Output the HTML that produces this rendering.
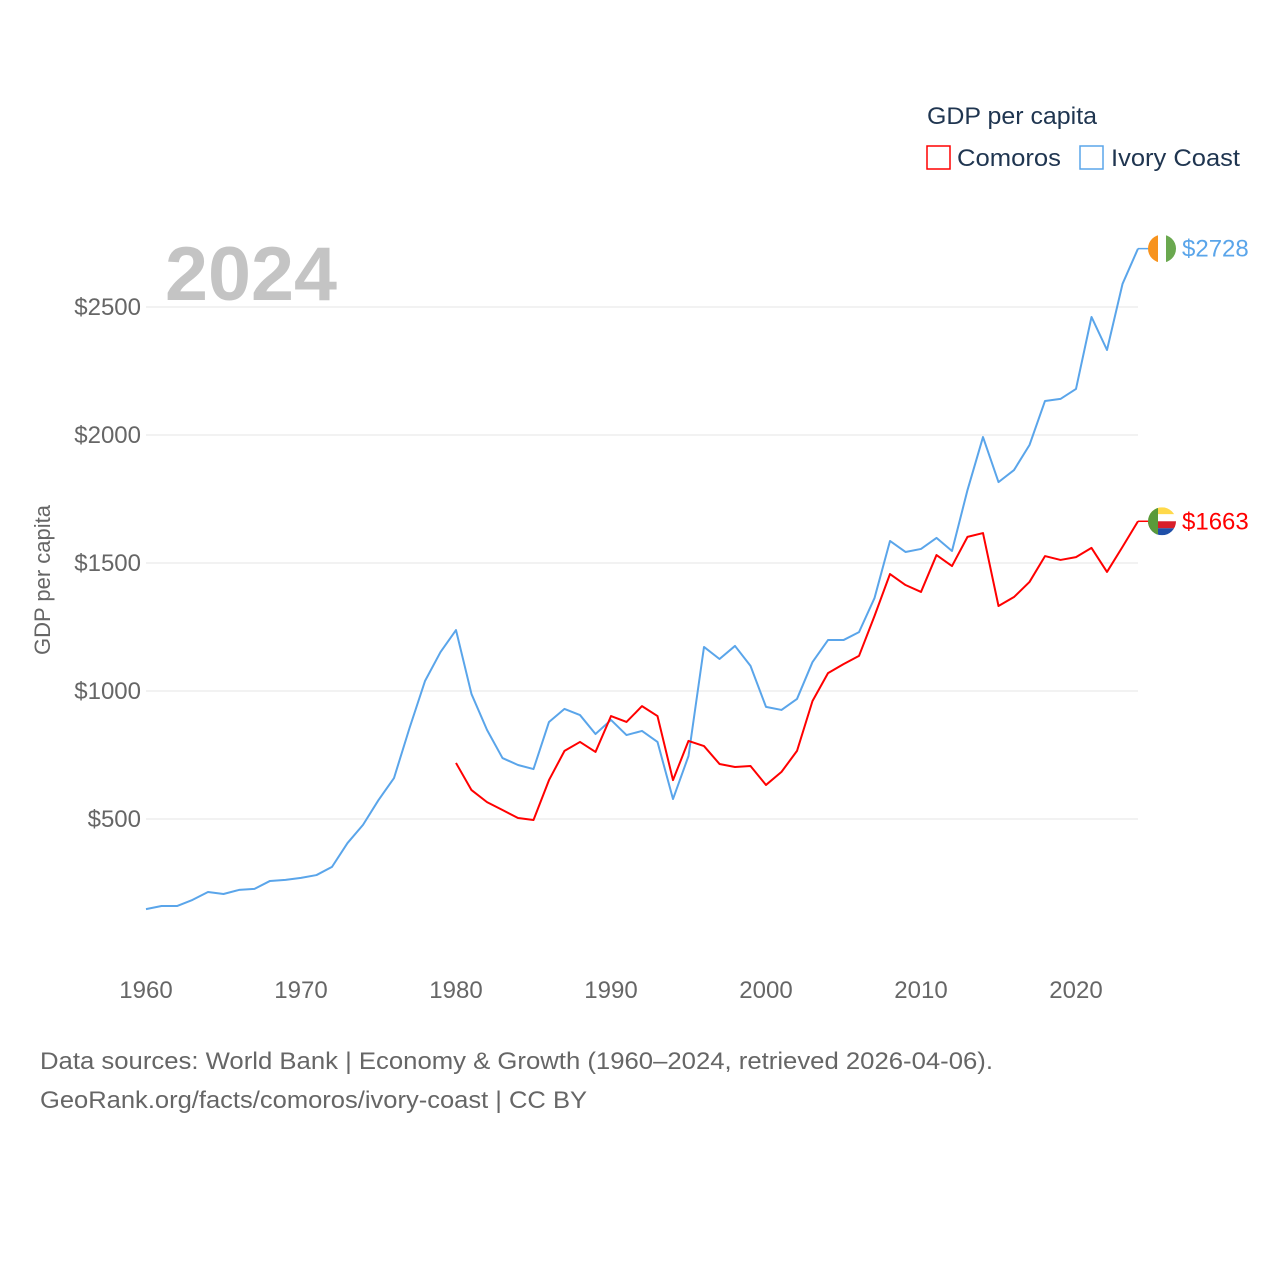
<!DOCTYPE html>
<html><head><meta charset="utf-8"><style>
html,body{margin:0;padding:0;background:#fff;}
body{width:1280px;height:1280px;position:relative;font-family:"Liberation Sans",sans-serif;}
</style></head><body>
<svg id="chart" width="1280" height="1280" xmlns="http://www.w3.org/2000/svg" font-family="Liberation Sans, sans-serif">
<g id="grid"></g>
<g id="yticks"></g>
<g id="xticks"></g>
<text x="165" y="300" font-size="76" font-weight="bold" fill="#c4c4c4" textLength="172" lengthAdjust="spacingAndGlyphs">2024</text>
<text transform="translate(50,580) rotate(-90)" text-anchor="middle" font-size="22" fill="#666">GDP per capita</text>
<g id="series"></g>
<g>
<text x="927" y="124" font-size="24" fill="#1f3550" textLength="170" lengthAdjust="spacingAndGlyphs">GDP per capita</text>
<g><rect x="927" y="146" width="23" height="23" fill="none" stroke="#ff0000" stroke-width="1.5"/><text x="957" y="166" font-size="24" fill="#1f3550" textLength="104" lengthAdjust="spacingAndGlyphs">Comoros</text></g>
<g><rect x="1080" y="146" width="23" height="23" fill="none" stroke="#5aa5ea" stroke-width="1.5"/><text x="1111" y="166" font-size="24" fill="#1f3550" textLength="129" lengthAdjust="spacingAndGlyphs">Ivory Coast</text></g>
</g>
<text x="40" y="1069" font-size="24" fill="#666" textLength="953" lengthAdjust="spacingAndGlyphs">Data sources: World Bank | Economy &amp; Growth (1960–2024, retrieved 2026-04-06).</text>
<text x="40" y="1108" font-size="24" fill="#666" textLength="547" lengthAdjust="spacingAndGlyphs">GeoRank.org/facts/comoros/ivory-coast | CC BY</text>
</svg>
<script>
const yTicks=[500,1000,1500,2000,2500];
const xTicks=[1960,1970,1980,1990,2000,2010,2020];
const civYears=[];for(let y=1960;y<=2024;y++)civYears.push(y);
const civValues=[148,160,160,184,215,207,223,227,258,262,270,281,313,406,477,574,660,855,1039,1152,1238,988,848,738,711,695,879,930,906,832,887,828,844,801,578,746,1172,1125,1176,1098,938,926,969,1113,1199,1199,1230,1363,1586,1543,1555,1598,1547,1785,1992,1816,1863,1961,2133,2141,2180,2461,2332,2590,2728];
const comYears=[];for(let y=1980;y<=2024;y++)comYears.push(y);
const comValues=[719,613,566,535,504,496,652,766,801,762,902,879,941,902,652,805,785,715,703,707,633,684,766,961,1070,1105,1137,1293,1457,1414,1387,1531,1488,1602,1617,1332,1367,1426,1527,1512,1523,1559,1465,1563,1663];
const X=y=>146+(y-1960)*15.5;
const Y=v=>947-v*0.256;
const NS="http://www.w3.org/2000/svg";
function mk(t,a,p){const e=document.createElementNS(NS,t);for(const k in a)e.setAttribute(k,a[k]);p.appendChild(e);return e;}
const grid=document.getElementById('grid'),yt=document.getElementById('yticks'),xt=document.getElementById('xticks'),ser=document.getElementById('series');
yTicks.forEach(v=>{
const l=mk('line',{x1:146,x2:1138,y1:Y(v),y2:Y(v),stroke:'#e6e6e6','stroke-width':1},grid);


const t=mk('text',{x:141,y:Y(v)+8,'text-anchor':'end','font-size':24,fill:'#666'},yt);t.textContent='$'+v;


});
xTicks.forEach(v=>{
const t=mk('text',{x:X(v),y:998,'text-anchor':'middle','font-size':24,fill:'#666'},xt);t.textContent=v;


});
function line(years,vals,color,name,flag){
const p=mk('path',{d:years.map((y,i)=>(i?'L':'M')+X(y)+','+Y(vals[i])).join(''),fill:'none',stroke:color,'stroke-width':2,'stroke-linejoin':'round'},ser);


const lv=vals[vals.length-1],ly=Y(lv),lx=X(years[years.length-1]);
mk('line',{x1:lx,x2:lx+10,y1:ly,y2:ly,stroke:color,'stroke-width':1.5},ser);
const g=mk('g',{},ser);


const cx=lx+24;
mk('clipPath',{id:'c'+name},g).appendChild(document.createElementNS(NS,'circle')).setAttribute('r','14');
g.lastChild.firstChild.setAttribute('cx',cx);g.lastChild.firstChild.setAttribute('cy',ly);
const gg=mk('g',{'clip-path':'url(#c'+name+')'},g);
flag.forEach(f=>mk('rect',{x:cx-14+f[0],y:ly-14+f[1],width:f[2],height:f[3],fill:f[4]},gg));
const t=mk('text',{x:lx+44,y:ly+8,'font-size':24,fill:color},ser);t.textContent='$'+lv;


}
line(civYears,civValues,'#5aa5ea','ivory-coast',[[0,0,10,28,'#f7931e'],[10,0,8,28,'#fff'],[18,0,10,28,'#6aa84f']]);
line(comYears,comValues,'#ff0000','comoros',[[0,0,28,7,'#ffd94a'],[0,7,28,7,'#fff'],[0,14,28,7,'#d81e2a'],[0,21,28,7,'#1f4fa8'],[0,0,10,28,'#5a9a3a']]);
</script>
</body></html>
